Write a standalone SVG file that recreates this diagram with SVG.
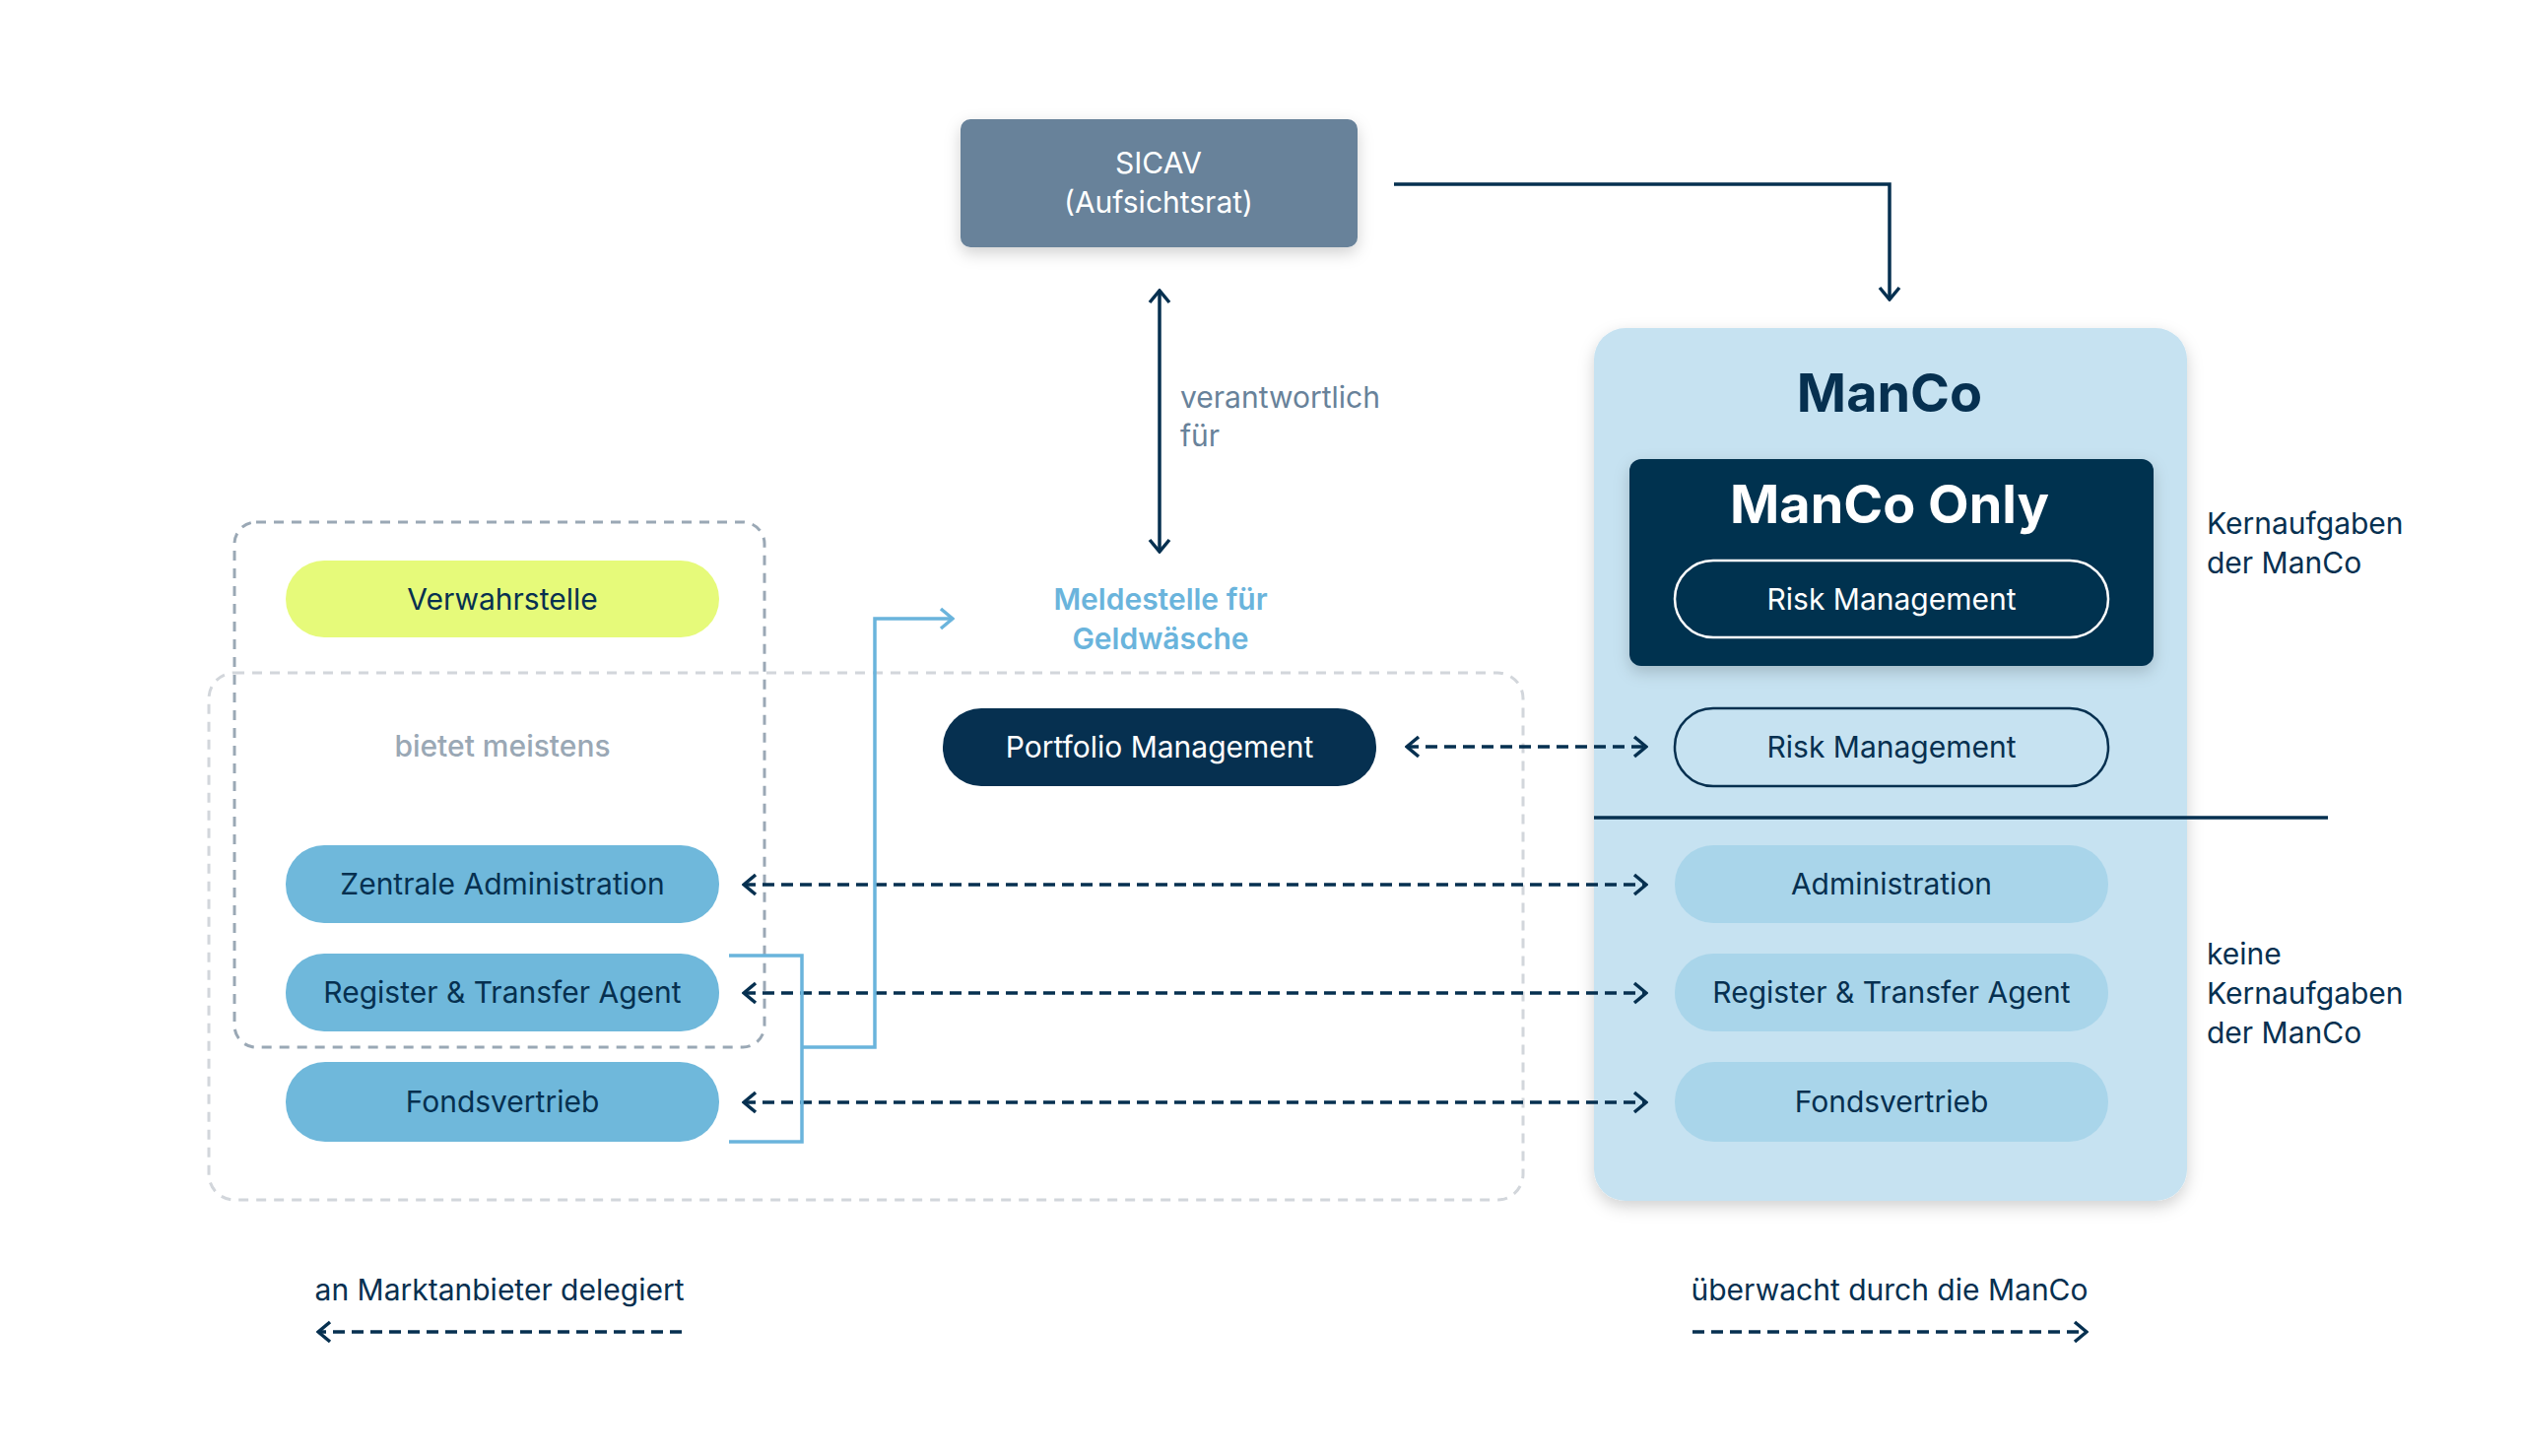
<svg xmlns="http://www.w3.org/2000/svg" width="2560" height="1478" viewBox="0 0 2560 1478">
<style>
text{font-family:Inter,"Noto Sans",sans-serif;font-size:30px;text-anchor:middle}
.dk{fill:#063050}.wt{fill:#fff}
.ln{fill:none;stroke:#063050;stroke-width:3.5}
.ds{fill:none;stroke:#063050;stroke-width:3.5;stroke-dasharray:12 7}
.bl{fill:none;stroke:#6ab4dc;stroke-width:3.5}
.lt{text-anchor:start}
</style>
<defs>
<marker id="a" viewBox="0 0 20 24" refX="18" refY="12" markerWidth="20" markerHeight="24" markerUnits="userSpaceOnUse" orient="auto-start-reverse"><path d="M6 2 L18 12 L6 22" fill="none" stroke="#063050" stroke-width="3.5"/></marker>
<marker id="b" viewBox="0 0 20 24" refX="18" refY="12" markerWidth="20" markerHeight="24" markerUnits="userSpaceOnUse" orient="auto"><path d="M6 2 L18 12 L6 22" fill="none" stroke="#6ab4dc" stroke-width="3.5"/></marker>
<filter id="sh" x="-10%" y="-10%" width="120%" height="130%"><feDropShadow dx="0" dy="6" stdDeviation="8" flood-color="#000" flood-opacity="0.18"/></filter>
</defs>
<rect width="2560" height="1478" fill="#fff"/>
<g id="groups">
<rect x="212" y="683" width="1334" height="535" rx="26" fill="none" stroke="#d2d6db" stroke-width="3" stroke-dasharray="10 8"/>
<rect x="238" y="530" width="538" height="533" rx="22" fill="none" stroke="#9aa8b5" stroke-width="3" stroke-dasharray="10 8"/>
</g>
<g id="sicav"><rect x="975" y="121" width="403" height="130" rx="10" fill="#68829a" filter="url(#sh)"/><text x="1176" y="176" class="wt">SICAV</text><text x="1176" y="216" class="wt">(Aufsichtsrat)</text></g>
<g id="manco">
<rect x="1618" y="333" width="602" height="886" rx="32" fill="#c6e2f1" filter="url(#sh)"/>
<text x="1918" y="418" class="dk" style="font-size:54px;font-weight:700">ManCo</text>
<rect x="1654" y="466" width="532" height="210" rx="12" fill="#063050" filter="url(#sh)"/>
<text x="1918" y="531" class="wt" style="font-size:54px;font-weight:700">ManCo Only</text>
</g>
<g id="rm1"><rect x="1700" y="569" width="440" height="78" rx="39" fill="none" stroke="#fff" stroke-width="2.5"/><text x="1920" y="619" class="wt">Risk Management</text></g>
<g id="rm2"><rect x="1700" y="719" width="440" height="79" rx="39" fill="none" stroke="#063050" stroke-width="2.5"/><text x="1920" y="769" class="dk">Risk Management</text></g>
<g id="adm"><rect x="1700" y="858" width="440" height="79" rx="39" fill="#a9d5ea"/><text x="1920" y="908" class="dk">Administration</text></g>
<g id="rta"><rect x="1700" y="968" width="440" height="79" rx="39" fill="#a9d5ea"/><text x="1920" y="1018" class="dk">Register &amp; Transfer Agent</text></g>
<g id="fv"><rect x="1700" y="1078" width="440" height="81" rx="40" fill="#a9d5ea"/><text x="1920" y="1129" class="dk">Fondsvertrieb</text></g>
<g id="verw"><rect x="290" y="569" width="440" height="78" rx="39" fill="#e6fa7a"/><text x="510" y="619" class="dk">Verwahrstelle</text></g>
<g id="za"><rect x="290" y="858" width="440" height="79" rx="39" fill="#6fb8db"/><text x="510" y="908" class="dk">Zentrale Administration</text></g>
<g id="rtl"><rect x="290" y="968" width="440" height="79" rx="39" fill="#6fb8db"/><text x="510" y="1018" class="dk">Register &amp; Transfer Agent</text></g>
<g id="fvl"><rect x="290" y="1078" width="440" height="81" rx="40" fill="#6fb8db"/><text x="510" y="1129" class="dk">Fondsvertrieb</text></g>
<g id="pm"><rect x="957" y="719" width="440" height="79" rx="39" fill="#063050"/><text x="1177" y="769" class="wt">Portfolio Management</text></g>
<g id="labels">
<text x="1198" y="414" class="lt" fill="#68829a">verantwortlich</text>
<text x="1198" y="453" class="lt" fill="#68829a">für</text>
<text x="1178" y="619" fill="#6ab4dc" style="font-weight:600">Meldestelle für</text>
<text x="1178" y="659" fill="#6ab4dc" style="font-weight:600">Geldwäsche</text>
<text x="510" y="768" fill="#9aa8b5" style="font-weight:500">bietet meistens</text>
<text x="2240" y="542" class="lt dk">Kernaufgaben</text>
<text x="2240" y="582" class="lt dk">der ManCo</text>
<text x="2240" y="979" class="lt dk">keine</text>
<text x="2240" y="1019" class="lt dk">Kernaufgaben</text>
<text x="2240" y="1059" class="lt dk">der ManCo</text>
<text x="507" y="1320" class="dk">an Marktanbieter delegiert</text>
<text x="1918" y="1320" class="dk">überwacht durch die ManCo</text>
</g>
<g id="connectors">
<path class="ln" d="M1415 187 H1918 V304" marker-end="url(#a)"/>
<path class="ln" d="M1177 295 V560" marker-start="url(#a)" marker-end="url(#a)"/>
<path class="ln" d="M1618 830 H2363"/>
<path class="ds" d="M1428 758 H1671" marker-start="url(#a)" marker-end="url(#a)"/>
<path class="ds" d="M755 898 H1671" marker-start="url(#a)" marker-end="url(#a)"/>
<path class="ds" d="M755 1008 H1671" marker-start="url(#a)" marker-end="url(#a)"/>
<path class="ds" d="M755 1119 H1671" marker-start="url(#a)" marker-end="url(#a)"/>
<path class="bl" d="M740 970 H814 V1159 H740"/>
<path class="bl" d="M814 1063 H888 V628 H967" marker-end="url(#b)"/>
<path class="ds" d="M692 1352 H323" marker-end="url(#a)"/>
<path class="ds" d="M1718 1352 H2118" marker-end="url(#a)"/>
</g>
</svg>
